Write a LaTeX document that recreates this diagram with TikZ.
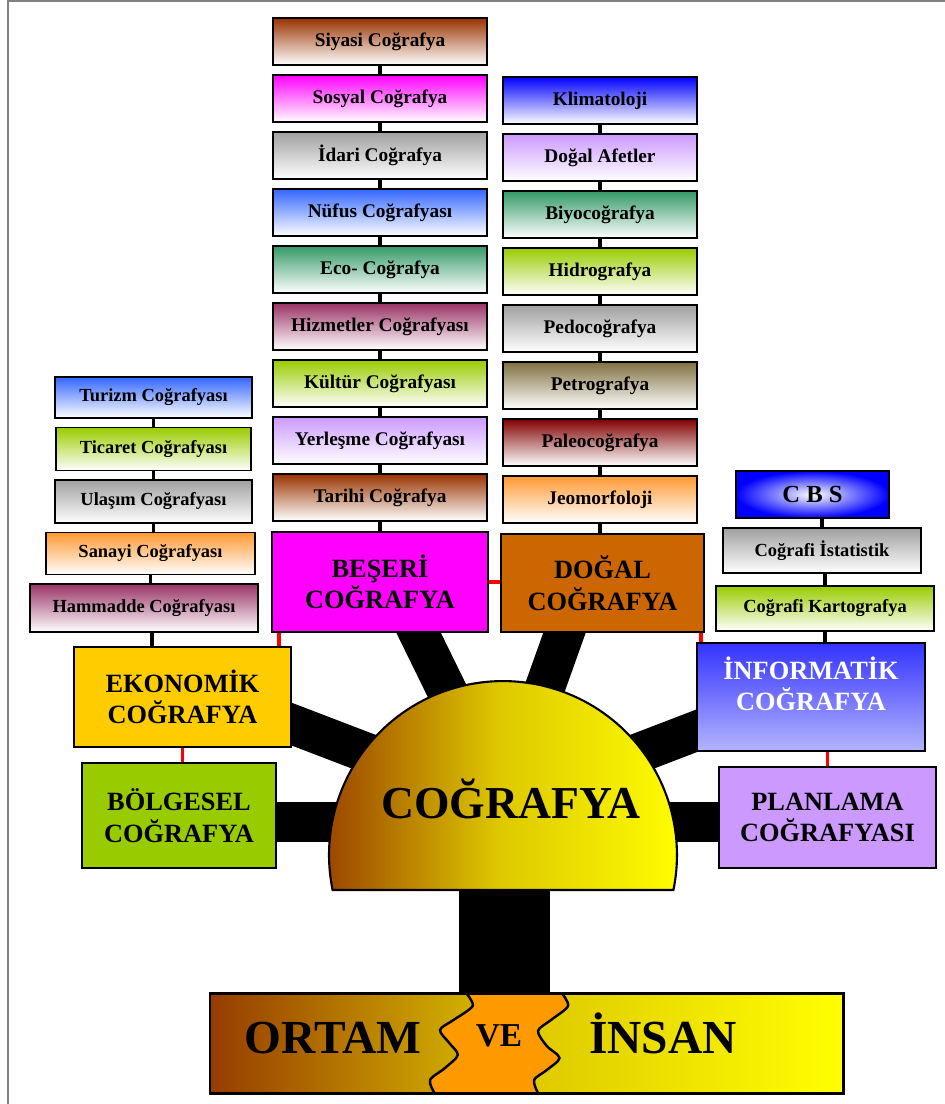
\documentclass[tikz,border=0pt]{standalone}
\usepackage{fontspec}
\setmainfont{Liberation Serif}
\usetikzlibrary{positioning,calc,backgrounds}

\definecolor{kahve}{RGB}{153,51,0}
\definecolor{mor}{RGB}{153,51,102}
\definecolor{yesil}{RGB}{51,153,102}
\definecolor{fistik}{RGB}{153,204,0}
\definecolor{lila}{RGB}{204,153,255}
\definecolor{mavi}{RGB}{51,102,255}
\definecolor{gri}{RGB}{160,160,160}
\definecolor{turuncu}{RGB}{255,153,51}
\definecolor{zeytin}{RGB}{128,112,64}
\definecolor{bordo}{RGB}{128,0,0}
\definecolor{toprak}{RGB}{204,102,0}
\definecolor{altin}{RGB}{255,204,0}
\definecolor{koyu}{RGB}{150,60,0}
\definecolor{orta}{RGB}{222,200,0}
\definecolor{portakal}{RGB}{255,153,0}
\definecolor{pembe}{RGB}{255,0,255}
\definecolor{saf}{RGB}{0,0,255}
\definecolor{infoust}{RGB}{51,51,255}
\definecolor{infoalt}{RGB}{180,180,255}

\tikzset{
  sub/.style={draw=black, line width=1pt, outer sep=0pt, inner sep=1pt,
    top color=#1, bottom color=white, minimum height=0.94cm,
    font=\fontsize{11}{13}\selectfont\bfseries},
  wb/.style={minimum width=4.28cm},
  wd/.style={minimum width=3.88cm},
  ince/.style={font=\fontsize{10.5}{12}\selectfont\bfseries},
  main/.style={draw=black, line width=1pt, outer sep=0pt, fill=#1, align=center,
    font=\fontsize{15}{18}\selectfont\bfseries},
  link/.style={line width=1.8pt},
  redlink/.style={red, line width=2.2pt},
  spoke/.style={line width=0.8cm},
}

\begin{document}
\begin{tikzpicture}[x=0.02cm, y=-0.02cm]
\useasboundingbox (0,0) rectangle (945,1104);
\draw[gray, line width=1.2pt] (8,1104) -- (8,1) -- (945,1);

% beseri cografya
\node[sub=kahve, wb] (siyasi) at (380,41.5) {Siyasi Coğrafya};
\node[sub=pembe, wb, below=0.2cm of siyasi] (sosyal) {Sosyal Coğrafya};
\node[sub=gri, wb, below=0.2cm of sosyal] (idari) {İdari Coğrafya};
\node[sub=mavi, wb, below=0.2cm of idari] (nufus) {Nüfus Coğrafyası};
\node[sub=yesil, wb, below=0.2cm of nufus] (eco) {Eco- Coğrafya};
\node[sub=mor, wb, below=0.2cm of eco] (hizmet) {Hizmetler Coğrafyası};
\node[sub=fistik, wb, below=0.2cm of hizmet] (kultur) {Kültür Coğrafyası};
\node[sub=lila, wb, below=0.2cm of kultur] (yerlesme) {Yerleşme Coğrafyası};
\node[sub=kahve, wb, below=0.2cm of yerlesme] (tarihi) {Tarihi Coğrafya};
\node[main=pembe, minimum width=4.32cm, minimum height=2cm, below=0.22cm of tarihi] (beseri) {BEŞERİ\\COĞRAFYA};

% dogal cografya
\node[sub=saf, wd] (klima) at (600,100.5) {Klimatoloji};
\node[sub=lila, wd, below=0.2cm of klima] (afet) {Doğal Afetler};
\node[sub=yesil, wd, below=0.2cm of afet] (biyo) {Biyocoğrafya};
\node[sub=fistik, wd, below=0.2cm of biyo] (hidro) {Hidrografya};
\node[sub=gri, wd, below=0.2cm of hidro] (pedo) {Pedocoğrafya};
\node[sub=zeytin, wd, below=0.2cm of pedo] (petro) {Petrografya};
\node[sub=bordo, wd, below=0.2cm of petro] (paleo) {Paleocoğrafya};
\node[sub=turuncu, wd, below=0.2cm of paleo] (jeomorf) {Jeomorfoloji};
\node[main=toprak, minimum width=4.06cm, minimum height=1.96cm, below=0.22cm of jeomorf, xshift=0.05cm] (dogal) {DOĞAL\\COĞRAFYA};

% ekonomik cografya
\node[sub=mavi, ince, minimum width=3.94cm, minimum height=0.82cm] (turizm) at (153.5,397.5) {Turizm Coğrafyası};
\node[sub=fistik, ince, minimum width=3.9cm, minimum height=0.86cm, below=0.19cm of turizm] (ticaret) {Ticaret Coğrafyası};
\node[sub=gri, ince, minimum width=3.94cm, minimum height=0.86cm, below=0.19cm of ticaret] (ulasim) {Ulaşım Coğrafyası};
\node[sub=turuncu, ince, minimum width=4.18cm, minimum height=0.84cm, below=0.19cm of ulasim, xshift=-0.06cm] (sanayi) {Sanayi Coğrafyası};
\node[sub=mor, ince, minimum width=4.56cm, minimum height=0.96cm, below=0.19cm of sanayi, xshift=-0.13cm] (hammadde) {Hammadde Coğrafyası};
\node[main=altin, minimum width=4.34cm, minimum height=2cm] (ekonomik) at (182.5,697) {EKONOMİK\\COĞRAFYA};
\node[main=fistik, minimum width=3.88cm, minimum height=2.1cm] (bolgesel) at (179,815.5) {BÖLGESEL\\COĞRAFYA};

% informatik cografya
\node[sub=saf, inner color=white, outer color=saf, minimum width=3.06cm, font=\fontsize{14}{16}\selectfont\bfseries] (cbs) at (812.5,494.5) {C B S};
\node[sub=gri, ince, minimum width=3.96cm, minimum height=0.9cm] (istat) at (822,550.5) {Coğrafi İstatistik};
\node[sub=fistik, ince, minimum width=4.36cm, minimum height=0.9cm] (karto) at (825,608.5) {Coğrafi Kartografya};
\node[draw=black, line width=1pt, outer sep=0pt, top color=infoust, bottom color=infoalt, minimum width=4.56cm, minimum height=2.16cm] (informatik) at (811,697) {};
\node[main=none, draw=none, text=white] (informatikyazi) at ($(informatik)+(0,-13)$) {İNFORMATİK\\COĞRAFYA};
\node[main=lila, minimum width=4.34cm, minimum height=2.02cm] (planlama) at (827.5,817.5) {PLANLAMA\\COĞRAFYASI};

% kubbe
\draw[line width=1.2pt, left color=koyu, right color=yellow, middle color=orta]
  (332.6,890) arc[start angle=191.6, end angle=-11.6, radius=3.48cm] -- cycle;
\node[font=\fontsize{26}{30}\selectfont\bfseries, anchor=base] (cografya) at (511,818) {COĞRAFYA};
\coordinate (hub) at (503,805);

% ortam ve insan
\path[left color=koyu, right color=yellow, middle color=orta] (210,993) rectangle (843,1093);
\fill[portakal] plot[smooth] coordinates {(466,993) (472.6,1006) (453.5,1020) (440,1030) (449.3,1043) (457.8,1055) (445,1068) (430,1080) (434.5,1093)}
  -- plot[smooth] coordinates {(538,1093) (534,1080) (546.8,1070) (559.5,1058) (546.8,1046) (538,1031) (551,1020) (568,1006) (561.6,993)} -- cycle;
\draw[line width=1.4pt] plot[smooth] coordinates {(466,993) (472.6,1006) (453.5,1020) (440,1030) (449.3,1043) (457.8,1055) (445,1068) (430,1080) (434.5,1093)};
\draw[line width=1.4pt] plot[smooth] coordinates {(561.6,993) (568,1006) (551,1020) (538,1031) (546.8,1046) (559.5,1058) (546.8,1070) (534,1080) (538,1093)};
\draw[line width=1.7pt] (210,993) rectangle (843,1093);
\node[font=\fontsize{27}{30}\selectfont\bfseries, anchor=base] (ortam) at (333,1053) {ORTAM};
\node[font=\fontsize{19}{22}\selectfont\bfseries, anchor=base] (ve) at (499,1046) {VE};
\node[font=\fontsize{27}{30}\selectfont\bfseries, anchor=base] (insan) at (663,1053) {İNSAN};

\begin{pgfonlayer}{background}
  \fill (459,880) rectangle (550,1000);
  \draw[spoke] (hub) -- ($(beseri)+(20,13)$);
  \draw[spoke] (hub) -- ($(dogal)+(-24.5,12)$);
  \draw[spoke] (hub) -- ($(ekonomik)+(77.5,15)$);
  \draw[spoke] (hub) -- ($(informatik)+(-81,21)$);
  \draw[spoke] ($(bolgesel)+(0,6.5)$) -- ++(324,0);
  \draw[spoke] ($(planlama)+(0,4.5)$) -- ++(-324,0);
  \foreach \a/\b in {siyasi/sosyal, sosyal/idari, idari/nufus, nufus/eco, eco/hizmet,
      hizmet/kultur, kultur/yerlesme, yerlesme/tarihi, tarihi/beseri,
      klima/afet, afet/biyo, biyo/hidro, hidro/pedo, pedo/petro, petro/paleo,
      paleo/jeomorf, jeomorf/dogal,
      turizm/ticaret, ticaret/ulasim, ulasim/sanayi, sanayi/hammadde}
    \draw[link] (\a.south) -- (\a.south |- \b.north);
  \draw[link] ([xshift=0.16cm]hammadde.south) -- ([xshift=0.16cm]hammadde.south |- ekonomik.north);
  \draw[link] (istat.north) -- (istat.north |- cbs.south);
  \draw[link] (karto.north) -- (karto.north |- istat.south);
  \draw[link] (karto.south) -- (karto.south |- informatik.north);
  % kirmizi baglar
  \draw[redlink] ([xshift=0.14cm]beseri.south west) -- ([xshift=0.14cm]beseri.south west |- ekonomik.north);
  \draw[redlink] (ekonomik.south) -- (ekonomik.south |- bolgesel.north);
  \draw[redlink] (beseri.east) -- (beseri.east -| dogal.west);
  \draw[redlink] ([xshift=-0.06cm]dogal.south east) -- ([xshift=-0.06cm]dogal.south east |- informatik.north);
  \draw[redlink] (informatik.south -| planlama) -- (planlama.north);
\end{pgfonlayer}
\end{tikzpicture}
\end{document}
